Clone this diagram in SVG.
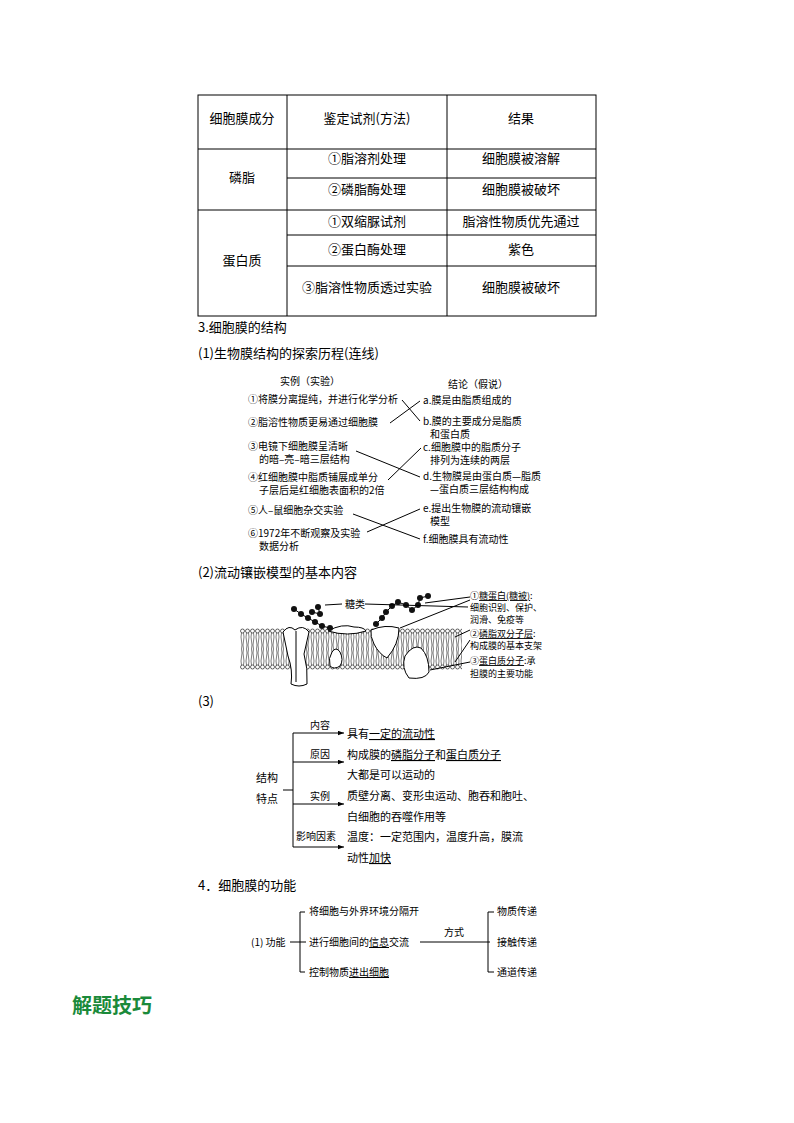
<svg xmlns="http://www.w3.org/2000/svg" width="794" height="1123" viewBox="0 0 794 1123">
<style>
text{font-family:"Noto Sans CJK SC","Liberation Sans",sans-serif;fill:#000}
.t{font-size:13px}
.s{font-size:10px;font-family:"Noto Sans CJK SC",serif}
.ln{stroke:#000;stroke-width:1;fill:none}
.g{stroke:#000;stroke-width:1;fill:#fff}
</style>
<defs>
<pattern id="bil" x="240" y="628" width="5" height="42" patternUnits="userSpaceOnUse">
<path d="M1.5 5 q-1 4 0 8 q1 4 0 8 M3.5 5 q1 4 0 8 q-1 4 0 8 M1.5 37 q-1 -4 0 -8 q1 -4 0 -8 M3.5 37 q1 -4 0 -8 q-1 -4 0 -8" stroke="#000" stroke-width="0.5" fill="none"/>
<circle cx="2.5" cy="3" r="2" fill="#fff" stroke="#000" stroke-width="0.6"/>
<circle cx="2.5" cy="39" r="2" fill="#fff" stroke="#000" stroke-width="0.6"/>
</pattern>
<marker id="ar" viewBox="0 0 8 6" refX="8" refY="3" markerWidth="6" markerHeight="5" orient="auto"><path d="M0 0L8 3L0 6z" fill="#000"/></marker>
</defs>
<rect width="794" height="1123" fill="#fff"/>

<g id="table">
<rect x="198" y="95" width="398" height="221" class="ln"/>
<line x1="198" y1="149" x2="596" y2="149" class="ln"/>
<line x1="198" y1="210" x2="596" y2="210" class="ln"/>
<line x1="287" y1="95" x2="287" y2="316" class="ln"/>
<line x1="447" y1="95" x2="447" y2="316" class="ln"/>
<line x1="287" y1="178" x2="596" y2="178" class="ln"/>
<line x1="287" y1="235" x2="596" y2="235" class="ln"/>
<line x1="287" y1="266" x2="596" y2="266" class="ln"/>
<g class="t" text-anchor="middle">
<text x="242" y="123">细胞膜成分</text>
<text x="367" y="123">鉴定试剂(方法)</text>
<text x="521" y="123">结果</text>
<text x="242" y="182">磷脂</text>
<text x="367" y="163">①脂溶剂处理</text>
<text x="521" y="163">细胞膜被溶解</text>
<text x="367" y="194">②磷脂酶处理</text>
<text x="521" y="194">细胞膜被破坏</text>
<text x="242" y="265">蛋白质</text>
<text x="367" y="226">①双缩脲试剂</text>
<text x="521" y="226">脂溶性物质优先通过</text>
<text x="367" y="254">②蛋白酶处理</text>
<text x="521" y="254">紫色</text>
<text x="367" y="292">③脂溶性物质透过实验</text>
<text x="521" y="292">细胞膜被破坏</text>
</g>
</g>

<g id="headings" class="t">
<text x="198" y="332">3.细胞膜的结构</text>
<text x="198" y="358">(1)生物膜结构的探索历程(连线)</text>
<text x="198" y="577">(2)流动镶嵌模型的基本内容</text>
<text x="198" y="706">(3)</text>
<text x="198" y="890">4．细胞膜的功能</text>
<text x="72" y="1013" style="font-size:20px;font-weight:bold;fill:#1a8a3a">解题技巧</text>
</g>

<g id="history" class="s">
<text x="280" y="385">实例（实验）</text>
<text x="448" y="388">结论（假说）</text>
<text x="248" y="403">①将膜分离提纯，并进行化学分析</text>
<text x="248" y="426">②脂溶性物质更易通过细胞膜</text>
<text x="248" y="450">③电镜下细胞膜呈清晰</text>
<text x="259" y="463">的暗–亮–暗三层结构</text>
<text x="248" y="481">④红细胞膜中脂质铺展成单分</text>
<text x="259" y="494">子层后是红细胞表面积的2倍</text>
<text x="248" y="514">⑤人–鼠细胞杂交实验</text>
<text x="248" y="537">⑥1972年不断观察及实验</text>
<text x="259" y="550">数据分析</text>
<text x="423" y="404">a.膜是由脂质组成的</text>
<text x="423" y="425">b.膜的主要成分是脂质</text>
<text x="430" y="438">和蛋白质</text>
<text x="423" y="451">c.细胞膜中的脂质分子</text>
<text x="430" y="464">排列为连续的两层</text>
<text x="423" y="480">d.生物膜是由蛋白质—脂质</text>
<text x="430" y="493">—蛋白质三层结构构成</text>
<text x="423" y="512">e.提出生物膜的流动镶嵌</text>
<text x="430" y="525">模型</text>
<text x="423" y="543">f.细胞膜具有流动性</text>
</g>
<g id="history-links" class="ln">
<line x1="402" y1="400" x2="420" y2="421"/>
<line x1="390" y1="423" x2="420" y2="401"/>
<line x1="356" y1="451" x2="420" y2="477"/>
<line x1="388" y1="480" x2="421" y2="448"/>
<line x1="353" y1="514" x2="420" y2="539"/>
<line x1="367" y1="532" x2="420" y2="509"/>
</g>

<g id="membrane">
<rect x="240" y="628" width="222" height="42" fill="url(#bil)"/>
<path d="M283 632 q6 -8 12 -2 q8 -6 14 2 l-5 22 q4 14 3 30 q-8 4 -16 0 q2 -14 -3 -28z" class="g"/>
<line x1="296" y1="631" x2="296" y2="682" class="ln"/>
<path d="M328 631 q14 -8 26 -4 q10 0 12 4 q-18 6 -38 0z" class="g"/>
<path d="M371 630 q14 -6 28 -2 q0 16 -12 30 q-8 -4 -13 -14 q-4 -8 -3 -14z" class="g"/>
<path d="M332 652 q4 -6 8 0 q4 8 0 14 q-6 4 -10 0 q-2 -8 2 -14z" class="g"/>
<path d="M405 656 q8 -12 16 -8 q8 8 8 24 q-4 8 -20 6 q-8 -10 -4 -22z" class="g"/>
<g class="ln" stroke-width="0.8">
<polyline points="294,609 301,614 308,618 315,622 322,626 330,628"/>
<polyline points="318,607 320,614 312,612"/>
<polyline points="376,624 382,618 386,612 392,606 398,602 406,605 412,610 418,605 420,598 428,596"/>
</g>
<g fill="#111">
<circle cx="294" cy="609" r="3"/><circle cx="301" cy="614" r="3"/><circle cx="308" cy="618" r="3"/><circle cx="315" cy="622" r="3"/><circle cx="322" cy="626" r="3"/><circle cx="330" cy="628" r="3"/>
<circle cx="318" cy="607" r="3"/><circle cx="320" cy="614" r="3"/><circle cx="312" cy="612" r="3"/>
<circle cx="376" cy="624" r="3"/><circle cx="382" cy="618" r="3"/><circle cx="386" cy="612" r="3"/><circle cx="392" cy="606" r="3"/><circle cx="398" cy="602" r="3"/><circle cx="406" cy="605" r="3"/><circle cx="412" cy="610" r="3"/><circle cx="418" cy="605" r="3"/><circle cx="420" cy="598" r="3"/><circle cx="428" cy="596" r="3"/>
</g>
<text x="345" y="608" class="s">糖类</text>
<line x1="325" y1="605" x2="342" y2="604" class="ln"/>
<line x1="365" y1="604" x2="468" y2="607" class="ln"/>
<line x1="425" y1="603" x2="470" y2="597" class="ln"/>
<line x1="400" y1="628" x2="470" y2="600" class="ln"/>
<line x1="455" y1="637" x2="470" y2="630" class="ln"/>
<line x1="455" y1="662" x2="470" y2="640" class="ln"/>
<line x1="430" y1="670" x2="470" y2="662" class="ln"/>
<g class="s" style="font-size:9px">
<text x="470" y="599">①<tspan text-decoration="underline">糖蛋白(糖被)</tspan>:</text>
<text x="470" y="611">细胞识别、保护、</text>
<text x="470" y="623">润滑、免疫等</text>
<text x="470" y="637">②<tspan text-decoration="underline">磷脂双分子层</tspan>:</text>
<text x="470" y="649">构成膜的基本支架</text>
<text x="470" y="664">③<tspan text-decoration="underline">蛋白质分子</tspan>:承</text>
<text x="470" y="677">担膜的主要功能</text>
</g>
</g>

<g id="features">
<text x="256" y="782" class="s" style="font-size:11px">结构</text>
<text x="256" y="803" class="s" style="font-size:11px">特点</text>
<g class="ln">
<line x1="283" y1="790" x2="293" y2="790"/>
<line x1="293" y1="733" x2="293" y2="847"/>
<line x1="293" y1="733" x2="344" y2="733" marker-end="url(#ar)"/>
<line x1="293" y1="762" x2="344" y2="762" marker-end="url(#ar)"/>
<line x1="293" y1="804" x2="344" y2="804" marker-end="url(#ar)"/>
<line x1="293" y1="847" x2="344" y2="847" marker-end="url(#ar)"/>
</g>
<g class="s">
<text x="310" y="729">内容</text>
<text x="310" y="758">原因</text>
<text x="310" y="800">实例</text>
<text x="296" y="840">影响因素</text>
</g>
<g class="s" style="font-size:11px">
<text x="347" y="738">具有<tspan text-decoration="underline">一定的流动性</tspan></text>
<text x="347" y="759"><tspan>构成膜的</tspan><tspan text-decoration="underline">磷脂分子</tspan>和<tspan text-decoration="underline">蛋白质分子</tspan></text>
<text x="347" y="779">大都是可以运动的</text>
<text x="347" y="800">质壁分离、变形虫运动、胞吞和胞吐、</text>
<text x="347" y="821">白细胞的吞噬作用等</text>
<text x="347" y="841">温度：一定范围内，温度升高，膜流</text>
<text x="347" y="862">动性<tspan text-decoration="underline">加快</tspan></text>
</g>
</g>

<g id="function">
<g class="ln">
<line x1="290" y1="942" x2="306" y2="942"/>
<line x1="300" y1="912" x2="300" y2="972"/>
<line x1="300" y1="912" x2="305" y2="912"/>
<line x1="300" y1="972" x2="305" y2="972"/>
<line x1="420" y1="942" x2="490" y2="942"/>
<line x1="488" y1="912" x2="488" y2="972"/>
<line x1="488" y1="912" x2="494" y2="912"/>
<line x1="488" y1="972" x2="494" y2="972"/>
</g>
<g class="s">
<text x="251" y="946">(1) 功能</text>
<text x="309" y="915">将细胞与外界环境分隔开</text>
<text x="309" y="946">进行细胞间的<tspan text-decoration="underline">信息</tspan>交流</text>
<text x="309" y="976">控制物质<tspan text-decoration="underline">进出细胞</tspan></text>
<text x="444" y="936">方式</text>
<text x="497" y="915">物质传递</text>
<text x="497" y="946">接触传递</text>
<text x="497" y="976">通道传递</text>
</g>
</g>
</svg>
